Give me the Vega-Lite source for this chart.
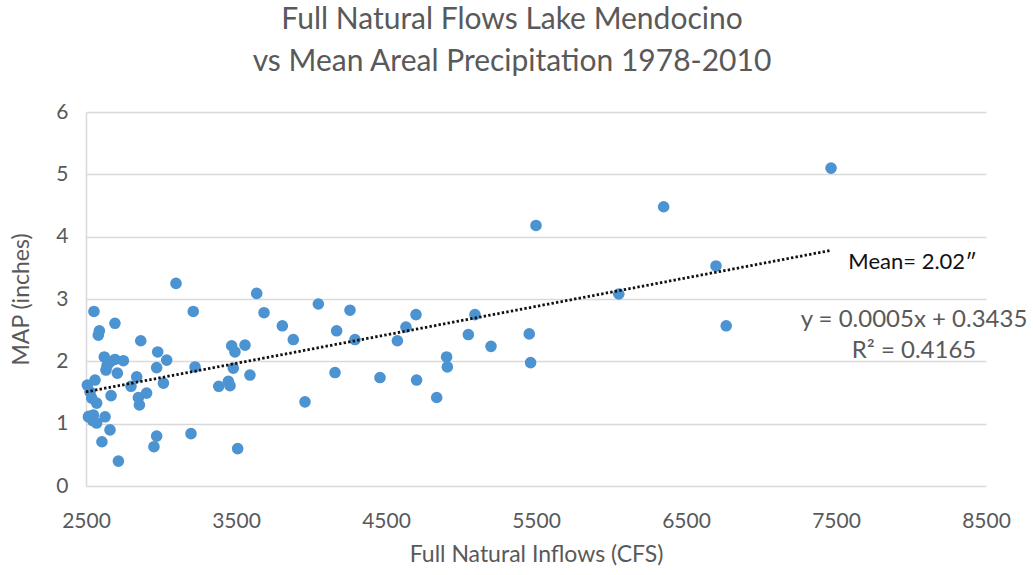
{
  "$schema": "https://vega.github.io/schema/vega-lite/v6.json",
  "width": 900,
  "height": 374,
  "autosize": {"type": "none"},
  "padding": {"left": 86, "top": 112, "right": 47, "bottom": 89},
  "background": "white",
  "title": {
    "text": ["Full Natural Flows Lake Mendocino", "vs Mean Areal Precipitation 1978-2010"],
    "font": "Lato",
    "fontSize": 30,
    "fontWeight": "normal",
    "color": "#595959",
    "lineHeight": 42,
    "anchor": "middle",
    "dx": -24,
    "offset": 24
  },
  "config": {
    "view": {"stroke": null},
    "axis": {
      "labelFont": "Lato",
      "titleFont": "Lato",
      "labelColor": "#595959",
      "titleColor": "#595959",
      "labelFontSize": 21,
      "titleFontSize": 23,
      "titleFontWeight": "normal",
      "ticks": false,
      "gridColor": "#D9D9D9",
      "gridWidth": 1.5,
      "domainColor": "#D9D9D9",
      "domainWidth": 1.5
    }
  },
  "datasets": {
    "points": [
      {"flow": 3100, "map": 3.25}, {"flow": 2553, "map": 2.80}, {"flow": 3215, "map": 2.80},
      {"flow": 2693, "map": 2.61}, {"flow": 2589, "map": 2.49}, {"flow": 2582, "map": 2.42},
      {"flow": 2865, "map": 2.33}, {"flow": 2978, "map": 2.15}, {"flow": 3038, "map": 2.02},
      {"flow": 2971, "map": 1.90}, {"flow": 2622, "map": 2.07}, {"flow": 2660, "map": 1.99},
      {"flow": 2693, "map": 2.03}, {"flow": 2749, "map": 2.01}, {"flow": 2633, "map": 1.86},
      {"flow": 2709, "map": 1.81}, {"flow": 2640, "map": 1.93}, {"flow": 3227, "map": 1.91},
      {"flow": 2509, "map": 1.62}, {"flow": 2560, "map": 1.70}, {"flow": 2527, "map": 1.51},
      {"flow": 2538, "map": 1.41}, {"flow": 2571, "map": 1.33}, {"flow": 2667, "map": 1.45},
      {"flow": 2516, "map": 1.11}, {"flow": 2549, "map": 1.14}, {"flow": 2571, "map": 1.01},
      {"flow": 2545, "map": 1.05}, {"flow": 2520, "map": 1.12},
      {"flow": 2627, "map": 1.11}, {"flow": 2660, "map": 0.90}, {"flow": 2606, "map": 0.71},
      {"flow": 2716, "map": 0.40}, {"flow": 2838, "map": 1.75}, {"flow": 2800, "map": 1.60},
      {"flow": 2849, "map": 1.42}, {"flow": 2904, "map": 1.49}, {"flow": 2856, "map": 1.30},
      {"flow": 3016, "map": 1.65}, {"flow": 2971, "map": 0.80}, {"flow": 2953, "map": 0.63},
      {"flow": 3200, "map": 0.84}, {"flow": 3638, "map": 3.09}, {"flow": 3687, "map": 2.78},
      {"flow": 4049, "map": 2.92}, {"flow": 3809, "map": 2.57}, {"flow": 3882, "map": 2.35},
      {"flow": 3471, "map": 2.25}, {"flow": 3493, "map": 2.15}, {"flow": 3560, "map": 2.26},
      {"flow": 3482, "map": 1.89}, {"flow": 3593, "map": 1.78}, {"flow": 3385, "map": 1.60},
      {"flow": 3449, "map": 1.68}, {"flow": 3460, "map": 1.61}, {"flow": 3960, "map": 1.35},
      {"flow": 3511, "map": 0.60}, {"flow": 4260, "map": 2.82}, {"flow": 4171, "map": 2.49},
      {"flow": 4293, "map": 2.35}, {"flow": 4160, "map": 1.82}, {"flow": 4460, "map": 1.74},
      {"flow": 4576, "map": 2.33}, {"flow": 4633, "map": 2.55}, {"flow": 4700, "map": 2.75},
      {"flow": 4704, "map": 1.70}, {"flow": 4838, "map": 1.42}, {"flow": 4904, "map": 2.07},
      {"flow": 4909, "map": 1.91}, {"flow": 5049, "map": 2.43}, {"flow": 5093, "map": 2.75},
      {"flow": 5200, "map": 2.24}, {"flow": 5500, "map": 4.18}, {"flow": 6351, "map": 4.48},
      {"flow": 6052, "map": 3.08}, {"flow": 5455, "map": 2.44}, {"flow": 5464, "map": 1.98},
      {"flow": 7467, "map": 5.10}, {"flow": 6700, "map": 3.53}, {"flow": 6768, "map": 2.57}
    ],
    "trend": [
      {"flow": 2500, "map": 1.51},
      {"flow": 7467, "map": 3.78}
    ],
    "notes": [
      {"flow": 8010, "map": 3.6, "label": "Mean= 2.02\u2033", "kind": "mean"},
      {"flow": 8020, "map": 2.67, "label": "y = 0.0005x + 0.3435", "kind": "fit"},
      {"flow": 8020, "map": 2.17, "label": "R\u00b2 = 0.4165", "kind": "fit"}
    ]
  },
  "layer": [
    {
      "data": {"name": "points"},
      "mark": {"type": "circle", "size": 135, "color": "#4C93D2", "opacity": 1},
      "encoding": {
        "x": {
          "field": "flow", "type": "quantitative",
          "scale": {"domain": [2500, 8500], "nice": false, "zero": false},
          "axis": {
            "title": "Full Natural Inflows  (CFS)",
            "values": [2500, 3500, 4500, 5500, 6500, 7500, 8500],
            "format": "d",
            "grid": false,
            "domain": false,
            "labelPadding": 24,
            "titlePadding": 12,
            "labelFlush": false
          }
        },
        "y": {
          "field": "map", "type": "quantitative",
          "scale": {"domain": [0, 6], "nice": false},
          "axis": {
            "title": "MAP (inches)",
            "values": [0, 1, 2, 3, 4, 5, 6],
            "format": "d",
            "grid": true,
            "labelPadding": 18,
            "titlePadding": 22
          }
        }
      }
    },
    {
      "data": {"name": "trend"},
      "mark": {"type": "line", "color": "#111111", "strokeWidth": 2.8, "strokeDash": [2.4, 2.2]},
      "encoding": {
        "x": {"field": "flow", "type": "quantitative"},
        "y": {"field": "map", "type": "quantitative"}
      }
    },
    {
      "data": {"name": "notes"},
      "transform": [{"filter": "datum.kind === 'mean'"}],
      "mark": {"type": "text", "font": "Lato", "fontSize": 22, "color": "#111111", "align": "center", "baseline": "middle"},
      "encoding": {
        "x": {"field": "flow", "type": "quantitative"},
        "y": {"field": "map", "type": "quantitative"},
        "text": {"field": "label"}
      }
    },
    {
      "data": {"name": "notes"},
      "transform": [{"filter": "datum.kind === 'fit'"}],
      "mark": {"type": "text", "font": "Lato", "fontSize": 24, "color": "#595959", "align": "center", "baseline": "middle"},
      "encoding": {
        "x": {"field": "flow", "type": "quantitative"},
        "y": {"field": "map", "type": "quantitative"},
        "text": {"field": "label"}
      }
    }
  ]
}
